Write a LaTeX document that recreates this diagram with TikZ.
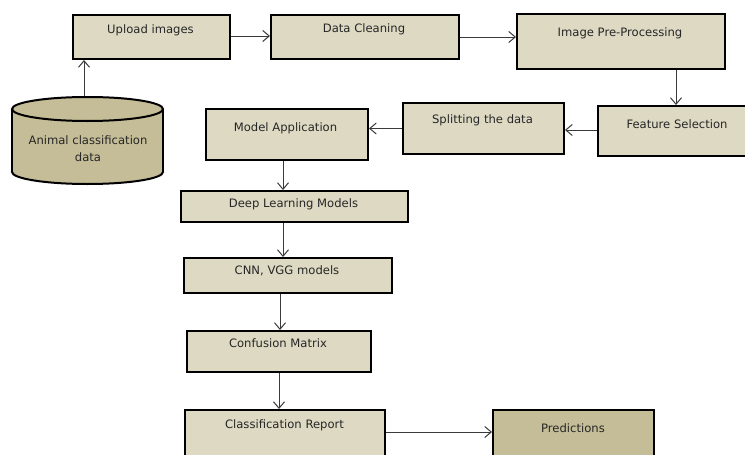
\documentclass[tikz,border=0pt]{standalone}
\usepackage{fontspec}
\setmainfont{DejaVu Sans}
\usetikzlibrary{arrows.meta}
\definecolor{boxlight}{HTML}{DDD9C3}
\definecolor{boxdark}{HTML}{C4BD97}
\definecolor{arrowgray}{HTML}{3A3A3A}
\definecolor{txtgray}{HTML}{262626}
\tikzset{
  box/.style={draw=black, line width=2pt, fill=boxlight, anchor=north west, inner sep=0pt},
  darkbox/.style={box, fill=boxdark},
  txt/.style={font=\fontsize{11.6}{14}\selectfont, text=txtgray, inner sep=0pt, align=center},
  arr/.style={draw=arrowgray, line width=1pt, -{Straight Barb[length=6.5pt,width=11pt]}}
}
\begin{document}
\begin{tikzpicture}[x=1pt,y=-1pt]
\clip (0,0) rectangle (745,455);
\fill[white] (0,0) rectangle (745,455);

% boxes
\node[box, minimum width=157pt, minimum height=44pt] (up) at (72,14) {};
\node[box, minimum width=188pt, minimum height=44pt] (dc) at (270,14) {};
\node[box, minimum width=208pt, minimum height=55pt] (ip) at (516,13) {};
\node[box, minimum width=152pt, minimum height=50pt] (fs) at (597,105) {};
\node[box, minimum width=161pt, minimum height=51pt] (sp) at (402,102) {};
\node[box, minimum width=162pt, minimum height=51pt] (ma) at (205,108) {};
\node[box, minimum width=227pt, minimum height=31pt] (dl) at (180,190) {};
\node[box, minimum width=208pt, minimum height=35pt] (cnn) at (183,257) {};
\node[box, minimum width=184pt, minimum height=41pt] (cm) at (186,330) {};
\node[box, minimum width=200pt, minimum height=53pt] (cr) at (184,409) {};
\node[darkbox, minimum width=161pt, minimum height=53pt] (pr) at (492,409) {};

% cylinder
\filldraw[fill=boxdark, draw=black, line width=2pt] (87.5,172) ellipse [x radius=75.5pt, y radius=12pt];
\fill[boxdark] (12,109) rectangle (163,172);
\draw[black, line width=2pt] (12,109) -- (12,172) (163,109) -- (163,172);
\filldraw[fill=boxdark, draw=black, line width=2pt] (87.5,109) ellipse [x radius=75.5pt, y radius=12pt];
\coordinate (cyltop) at (84,96);
\node[txt, font=\fontsize{11.6}{17}\selectfont] (cyl) at (88,148.5) {Animal classification\\data};

% texts
\node[txt] (up-t) at (150.5,30) {Upload images};
\node[txt] (dc-t) at (364,29) {Data Cleaning};
\node[txt] (ip-t) at (620,33) {Image Pre-Processing};
\node[txt] (fs-t) at (677,124) {Feature Selection};
\node[txt] (sp-t) at (482.5,120) {Splitting the data};
\node[txt] (ma-t) at (285.5,128) {Model Application};
\node[txt] (dl-t) at (293.5,204) {Deep Learning Models};
\node[txt] (cnn-t) at (287,271) {CNN, VGG models};
\node[txt] (cm-t) at (278,343) {Confusion Matrix};
\node[txt] (cr-t) at (284.5,425) {Classification Report};
\node[txt] (pr-t) at (573,428) {Predictions};

% connectors
\draw[arr] (cyltop) -- (cyltop |- up.south);
\draw[arr] ([yshift=1pt]up.east) -- ([yshift=1pt]up.east -| dc.west);
\draw[arr] (dc.east) -- (dc.east -| ip.west);
\draw[arr] (ip.south -| fs-t) ++(-1,0) -- ([xshift=-1pt]fs-t |- fs.north);
\draw[arr] ([yshift=1pt]fs.west) -- ([yshift=1pt]fs.west -| sp.east);
\draw[arr] (sp.west) -- (sp.west -| ma.east);
\draw[arr] ([xshift=-4pt]ma.south) -- ([xshift=-4pt]ma.south |- dl.north);
\draw[arr] ([xshift=-11.5pt]dl.south) -- ([xshift=-11.5pt]dl.south |- cnn.north);
\draw[arr] ([xshift=-8pt]cnn.south) -- ([xshift=-8pt]cnn.south |- cm.north);
\draw[arr] (cm.south) -- (cm.south |- cr.north);
\draw[arr] ([yshift=4.5pt]cr.east) -- ([yshift=4.5pt]cr.east -| pr.west);
\end{tikzpicture}
\end{document}
